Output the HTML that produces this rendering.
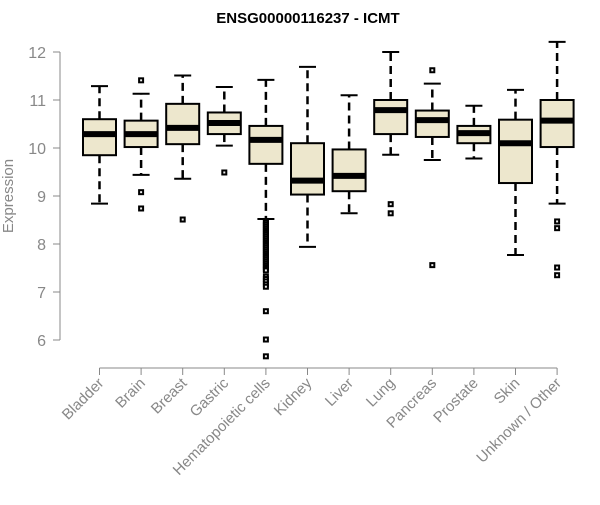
<!DOCTYPE html>
<html><head><meta charset="utf-8"><style>
body{margin:0;background:#fff}
svg{font-family:"Liberation Sans",Arial,sans-serif}
</style></head><body>
<svg id="chart" width="600" height="500">
<text x="308" y="23" text-anchor="middle" font-size="15" font-weight="bold">ENSG00000116237 - ICMT</text>
<text transform="translate(13,196) rotate(-90)" text-anchor="middle" font-size="15" fill="#888">Expression</text>
<g id="yaxis"></g>
<g id="xaxis"></g>
<g id="boxes"></g>
</svg>
<script>
const categories=["Bladder","Brain","Breast","Gastric","Hematopoietic cells","Kidney","Liver","Lung","Pancreas","Prostate","Skin","Unknown / Other"];
const whiskerLow=[8.84,9.44,9.36,10.05,8.52,7.94,8.64,9.86,9.75,9.78,7.77,8.84];
const q1=[9.85,10.02,10.08,10.29,9.67,9.03,9.10,10.29,10.23,10.10,9.27,10.02];
const medians=[10.29,10.29,10.42,10.52,10.17,9.32,9.42,10.79,10.58,10.31,10.10,10.57];
const q3=[10.60,10.57,10.92,10.74,10.46,10.10,9.97,11.0,10.78,10.46,10.59,11.0];
const whiskerHigh=[11.29,11.13,11.51,11.27,11.42,11.69,11.10,12.0,11.34,10.88,11.21,12.21];
const outliers=[[],[11.41,9.08,8.74],[8.51],[9.49],
[8.48,8.44,8.40,8.36,8.32,8.28,8.24,8.20,8.16,8.12,8.08,8.04,8.00,7.96,7.92,7.88,7.84,7.80,7.76,7.72,7.68,7.64,7.60,7.56,7.52,7.48,7.45,7.32,7.27,7.22,7.16,7.11,6.60,6.01,5.66],
[],[],[8.83,8.64],[11.62,7.56],[],[],[8.47,8.33,7.51,7.35]];
const yTicks=[6,7,8,9,10,11,12];

const NS="http://www.w3.org/2000/svg";
const y=v=>52+(12-v)*48;
const x=i=>99.5+i*41.6;
function mk(tag,attrs,parent){const e=document.createElementNS(NS,tag);for(const k in attrs)e.setAttribute(k,attrs[k]);parent.appendChild(e);return e;}
const ya=document.getElementById('yaxis');
let l=mk('line',{x1:60,x2:60,y1:y(12),y2:y(6),stroke:'#888'},ya);


yTicks.forEach(t=>{
 const tk=mk('line',{x1:53,x2:60,y1:y(t),y2:y(t),stroke:'#888'},ya);
 
 
 const tx=mk('text',{x:46,y:y(t)+6,'text-anchor':'end','font-size':16,fill:'#888'},ya);
 tx.textContent=t;
 
 
});
const xa=document.getElementById('xaxis');
const xl=mk('line',{x1:x(0),x2:x(categories.length-1),y1:368,y2:368,stroke:'#888'},xa);


const bg=document.getElementById('boxes');
categories.forEach((c,i)=>{
 const cx=x(i);
 const tk=mk('line',{x1:cx,x2:cx,y1:368,y2:375,stroke:'#888'},xa);
 
 
 const tx=mk('text',{x:cx+5,y:384,'text-anchor':'end','font-size':15,fill:'#888',transform:`rotate(-45 ${cx+5} 384)`},xa);
 tx.textContent=c;
 
 
 const g=mk('g',{},bg);
 
 
 mk('line',{x1:cx,x2:cx,y1:y(q3[i]),y2:y(whiskerHigh[i]),stroke:'#000','stroke-width':2.5,'stroke-dasharray':'8,5'},g);
 mk('line',{x1:cx,x2:cx,y1:y(q1[i]),y2:y(whiskerLow[i]),stroke:'#000','stroke-width':2.5,'stroke-dasharray':'8,5'},g);
 mk('line',{x1:cx-8.5,x2:cx+8.5,y1:y(whiskerHigh[i]),y2:y(whiskerHigh[i]),stroke:'#000','stroke-width':2},g);
 mk('line',{x1:cx-8.5,x2:cx+8.5,y1:y(whiskerLow[i]),y2:y(whiskerLow[i]),stroke:'#000','stroke-width':2},g);
 mk('rect',{x:cx-16.5,y:y(q3[i]),width:33,height:y(q1[i])-y(q3[i]),fill:'#ede7cd',stroke:'#000','stroke-width':2},g);
 mk('line',{x1:cx-16.5,x2:cx+16.5,y1:y(medians[i]),y2:y(medians[i]),stroke:'#000','stroke-width':6},g);
 outliers[i].forEach(v=>{
  const r=mk('rect',{x:cx-2,y:y(v)-2,width:4,height:4,fill:'#eee',stroke:'#000','stroke-width':2},g);
  
  
 });
});
</script>
</body></html>
